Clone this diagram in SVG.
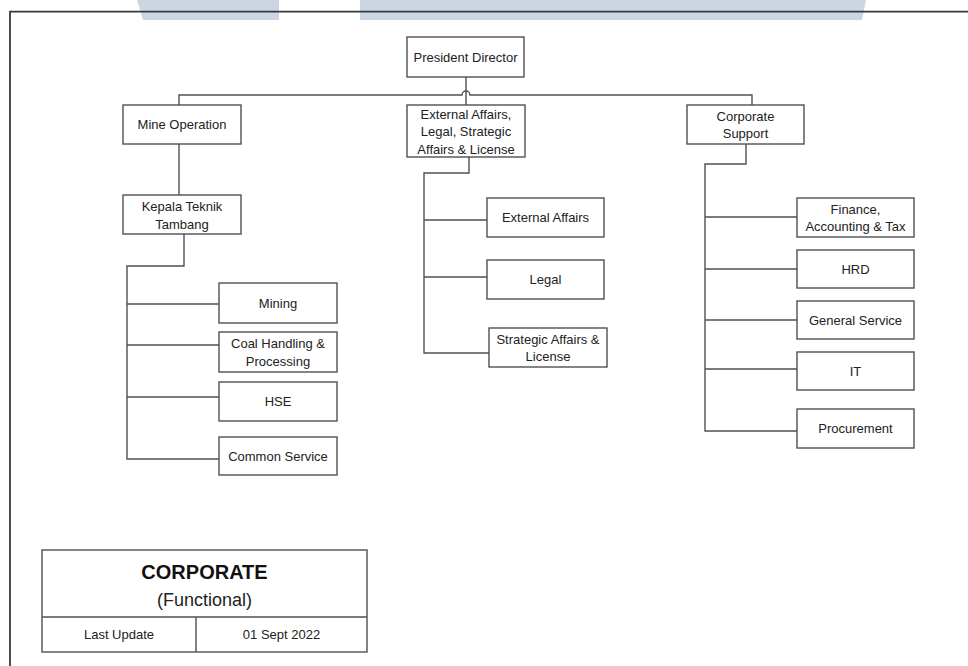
<svg xmlns="http://www.w3.org/2000/svg" width="968" height="666" viewBox="0 0 968 666">
<style>
.bx{fill:#fff;stroke:#505050;stroke-width:1.4}
.t{font-family:"Liberation Sans",Arial,sans-serif;font-size:13px;fill:#222;text-anchor:middle}
.c{fill:none;stroke:#505050;stroke-width:1.4}
.wm{fill:#cad7e3}
</style>
<rect width="968" height="666" fill="#fff"/>
<g id="watermark">
<polygon class="wm" points="137,0 279,0 279,20 143,20"/>
<polygon class="wm" points="360,0 866,0 862,20 360,20"/>
</g>
<g id="frame">
<path d="M10,666 V11.7 H968" fill="none" stroke="#383838" stroke-width="1.8"/>
</g>
<g id="connectors" class="c">
<path d="M466,77 V105"/>
<path d="M179,105 V95 H462 A4,4 0 0 1 470,95 H752 V105"/>
<path d="M179,144 V195"/>
<path d="M184,234 V266 H127 V459 H219 M127,304 H219 M127,345 H219 M127,397 H219"/>
<path d="M469,157 V173 H424 V353 H489 M424,220 H487 M424,277 H487"/>
<path d="M746,144 V164 H705 V431 H797 M705,217 H797 M705,269 H797 M705,320 H797 M705,369 H797"/>
</g>
<g id="president"><rect class="bx" x="407" y="37" width="117" height="40"/><text class="t" x="465.5" y="61.5">President Director</text></g>
<g id="mine-operation"><rect class="bx" x="123" y="105" width="118" height="39"/><text class="t" x="182" y="129">Mine Operation</text></g>
<g id="external-legal"><rect class="bx" x="407" y="105" width="118" height="52"/><text class="t" x="466" y="118.5">External Affairs,</text><text class="t" x="466" y="136">Legal, Strategic</text><text class="t" x="466" y="153.5">Affairs &amp; License</text></g>
<g id="corporate-support"><rect class="bx" x="687" y="105" width="117" height="39"/><text class="t" x="745.5" y="120.5">Corporate</text><text class="t" x="745.5" y="138">Support</text></g>
<g id="kepala"><rect class="bx" x="123" y="195" width="118" height="39"/><text class="t" x="182" y="211">Kepala Teknik</text><text class="t" x="182" y="228.5">Tambang</text></g>
<g id="mining"><rect class="bx" x="219" y="283" width="118" height="40"/><text class="t" x="278" y="307.5">Mining</text></g>
<g id="coal"><rect class="bx" x="219" y="332" width="118" height="40"/><text class="t" x="278" y="348">Coal Handling &amp;</text><text class="t" x="278" y="365.5">Processing</text></g>
<g id="hse"><rect class="bx" x="219" y="382" width="118" height="39"/><text class="t" x="278" y="406">HSE</text></g>
<g id="common-service"><rect class="bx" x="219" y="437" width="118" height="38"/><text class="t" x="278" y="460.5">Common Service</text></g>
<g id="external-affairs"><rect class="bx" x="487" y="198" width="117" height="39"/><text class="t" x="545.5" y="222">External Affairs</text></g>
<g id="legal"><rect class="bx" x="487" y="260" width="117" height="39"/><text class="t" x="545.5" y="284">Legal</text></g>
<g id="strategic"><rect class="bx" x="489" y="328" width="118" height="39"/><text class="t" x="548" y="343.5">Strategic Affairs &amp;</text><text class="t" x="548" y="361">License</text></g>
<g id="finance"><rect class="bx" x="797" y="198" width="117" height="39"/><text class="t" x="855.5" y="213.5">Finance,</text><text class="t" x="855.5" y="231">Accounting &amp; Tax</text></g>
<g id="hrd"><rect class="bx" x="797" y="250" width="117" height="38"/><text class="t" x="855.5" y="273.5">HRD</text></g>
<g id="general-service"><rect class="bx" x="797" y="301" width="117" height="38"/><text class="t" x="855.5" y="324.5">General Service</text></g>
<g id="it"><rect class="bx" x="797" y="352" width="117" height="38"/><text class="t" x="855.5" y="375.5">IT</text></g>
<g id="procurement"><rect class="bx" x="797" y="409" width="117" height="39"/><text class="t" x="855.5" y="433">Procurement</text></g>
<g id="title-block">
<rect class="bx" x="42" y="550" width="325" height="102"/>
<path class="c" d="M42,617 H367 M196,617 V652"/>
<text x="204.5" y="579" font-family="'Liberation Sans',Arial,sans-serif" font-size="20" font-weight="bold" fill="#111" text-anchor="middle">CORPORATE</text>
<text x="204.5" y="606" font-family="'Liberation Sans',Arial,sans-serif" font-size="18" fill="#222" text-anchor="middle">(Functional)</text>
<text class="t" x="119" y="639">Last Update</text>
<text class="t" x="281.5" y="639">01 Sept 2022</text>
</g>
</svg>
